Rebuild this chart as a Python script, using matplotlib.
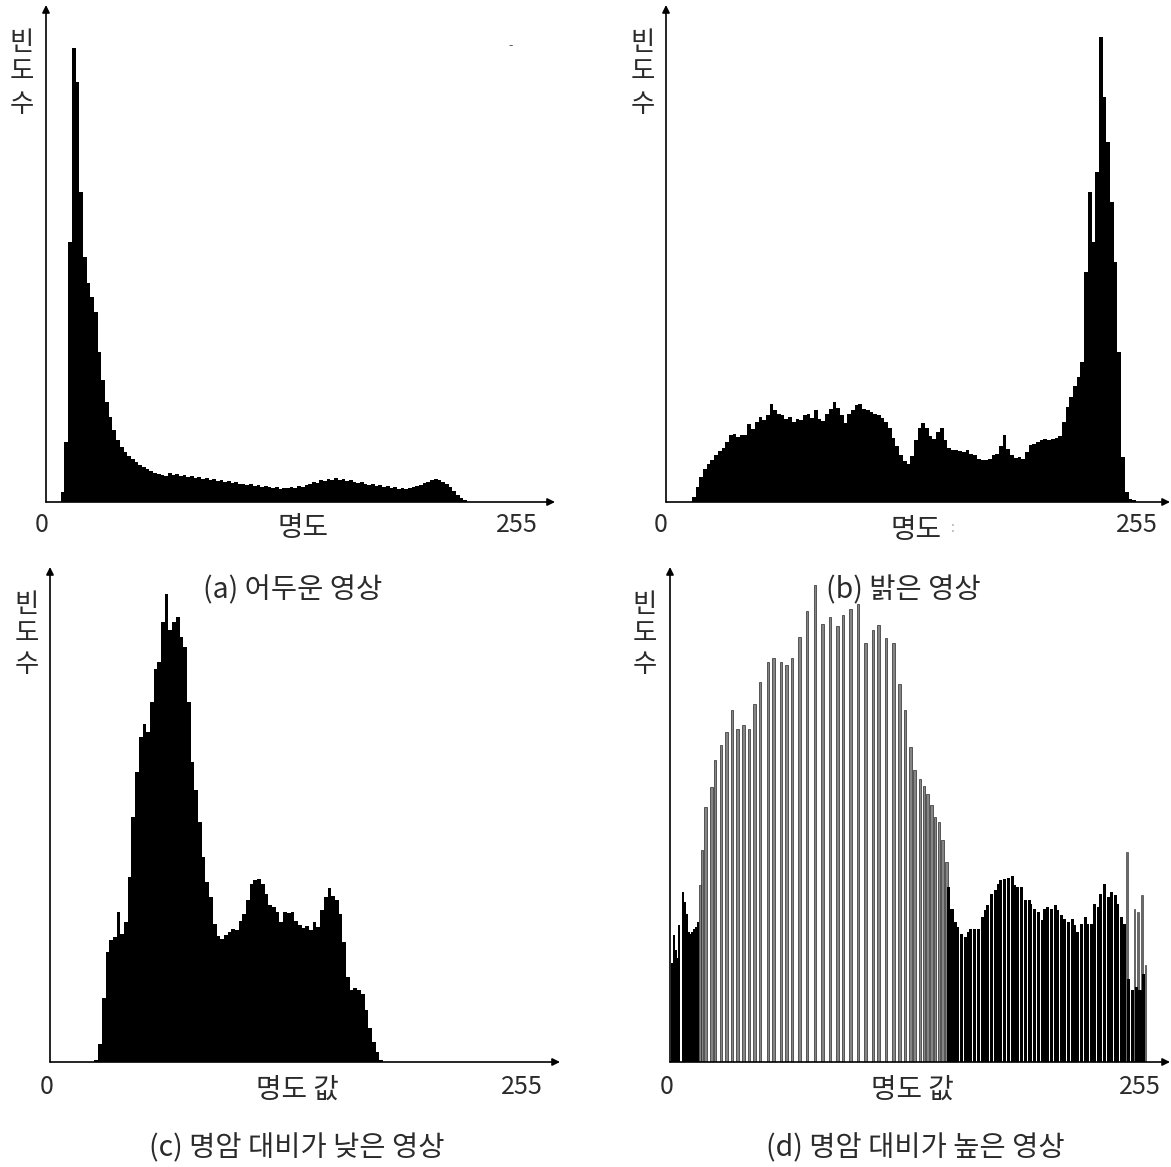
import numpy as np
import matplotlib.pyplot as plt

plt.rcParams['font.family'] = ['Noto Sans CJK KR', 'DejaVu Sans']

W, H = 1171, 1167

# (a) dark image: counts per bin of 2 grey levels, first bin at a_start
a_start = 8
a_counts = [10, 60, 260, 454, 420, 310, 245, 219, 205, 190, 150, 122, 100, 85, 72, 62,
            55, 50, 46, 43, 40, 37, 35, 33, 31, 29, 28, 27, 26, 29, 27, 28,
            26, 27, 25, 26, 24, 25, 23, 24, 22, 23, 21, 22, 20, 21, 19, 20,
            18, 18, 17, 18, 16, 17, 15, 16, 15, 14, 15, 13, 14, 14, 15, 14,
            16, 15, 17, 18, 20, 19, 22, 21, 23, 22, 24, 22, 23, 21, 22, 20,
            19, 20, 18, 17, 18, 16, 17, 15, 16, 14, 15, 13, 14, 13, 14, 15,
            16, 17, 19, 20, 22, 23, 22, 20, 18, 15, 11, 7, 4, 2]

# (b) bright image
b_start = 14
b_counts = [5, 15, 25, 33, 38, 42, 47, 51, 54, 60, 67, 68, 65, 67, 67, 78,
            73, 80, 85, 82, 87, 98, 92, 88, 87, 83, 85, 80, 83, 82, 87, 88,
            84, 92, 83, 81, 88, 93, 100, 94, 87, 79, 88, 92, 97, 98, 93, 92,
            90, 88, 87, 84, 80, 74, 64, 56, 47, 41, 38, 46, 62, 74, 79, 74,
            66, 63, 70, 74, 62, 54, 52, 52, 51, 50, 52, 48, 47, 43, 42, 42,
            43, 47, 48, 56, 67, 53, 47, 44, 45, 43, 50, 57, 58, 60, 62, 63,
            62, 63, 64, 66, 80, 95, 105, 116, 125, 140, 230, 310, 260, 330, 465, 405,
            360, 300, 240, 150, 45, 10, 3, 2]

# (c) low contrast image
c_start = 24
c_counts = [2, 18, 64, 110, 122, 125, 150, 128, 140, 185, 245, 290, 325, 338, 330, 360,
            393, 400, 440, 468, 432, 440, 445, 425, 415, 360, 300, 272, 240, 205, 180, 165,
            138, 126, 123, 127, 130, 133, 132, 141, 148, 162, 178, 182, 183, 178, 168, 157,
            155, 150, 140, 150, 149, 150, 141, 137, 134, 136, 132, 140, 135, 152, 165, 174,
            166, 162, 148, 120, 85, 72, 74, 72, 68, 52, 34, 20, 10, 2]

# (d) high contrast image: single grey levels
d_low_levels = [1, 2, 3, 4, 5, 7, 8, 9, 10, 11, 12, 13, 14, 15]
d_low_counts = [99, 127, 112, 104, 137, 170, 160, 148, 130, 128, 130, 133, 135, 140]

d_mid_levels = [16, 17, 19, 22, 24, 27, 30, 33, 36, 39, 42, 45, 48, 52, 55, 59, 62, 65, 69, 73, 77, 81,
                85, 89, 92, 96, 100, 104, 108, 111, 115, 119, 122, 125, 128, 130, 133, 135, 137, 139,
                141, 143, 145, 147]
d_mid_counts = [177, 212, 255, 275, 302, 317, 330, 352, 333, 337, 333, 358, 380, 400, 404, 400, 397, 404,
                425, 451, 477, 438, 445, 436, 447, 453, 458, 419, 432, 437, 424, 419, 378, 352, 315, 292,
                283, 276, 268, 257, 245, 240, 222, 200]

d_high_levels = [148, 150, 152, 153, 155, 157, 159, 160, 162, 164, 166, 168, 169, 171, 173, 175, 176, 178,
                 180, 182, 183, 185, 187, 189, 191, 192, 194, 196, 198, 199, 201, 203, 205, 206, 208, 210,
                 212, 214, 215, 217, 219, 221, 222, 224, 226, 228, 229, 231, 233, 235, 237, 238, 240, 242,
                 244, 246, 248, 250, 252]
d_high_counts = [175, 153, 140, 135, 128, 125, 130, 133, 133, 133, 145, 152, 157, 168, 172, 178, 182, 183,
                 184, 186, 177, 175, 175, 162, 162, 158, 153, 150, 142, 153, 155, 153, 157, 152, 147, 143,
                 140, 143, 137, 130, 138, 145, 138, 138, 158, 155, 168, 178, 165, 170, 167, 158, 145, 138,
                 83, 72, 75, 72, 88]

d_spike_levels = [243, 247, 249, 251, 253]
d_spike_counts = [210, 153, 150, 167, 97]

y_label = ['빈', '도', '수']
x_labels = ['명도', '명도', '명도 값', '명도 값']
captions = ['(a) 어두운 영상', '(b) 밝은 영상', '(c) 명암 대비가 낮은 영상', '(d) 명암 대비가 높은 영상']

# panel boxes in pixels: left, top, right(arrow end), bottom(x axis), px per grey level
boxes = [(46, 5, 555, 502, 1.847),
         (666, 5, 1170, 502, 1.85),
         (50, 567, 560, 1062, 1.85),
         (670, 567, 1170, 1062, 1.88)]

fig = plt.figure(figsize=(W / 100, H / 100), dpi=100)
TXT = '#2b2b2b'


def ftext(x, y, s, fs=20.5, **kw):
    fig.text(x / W, 1 - y / H, s, ha='center', va='center', color=TXT, fontsize=fs, **kw)


axes = []
for left, top, right, bottom, sc in boxes:
    ax = fig.add_axes([left / W, 1 - bottom / H, (right - left) / W, (bottom - top) / H])
    ax.set_xlim(0, (right - left) / sc)
    ax.set_ylim(0, bottom - top)
    ax.axis('off')
    arrow = dict(arrowstyle='-|>', color='black', lw=1.2, mutation_scale=11, shrinkA=0, shrinkB=0)
    ax.annotate('', xy=(1, 0), xytext=(0, 0), xycoords='axes fraction', arrowprops=arrow)
    ax.annotate('', xy=(0, 1), xytext=(0, 0), xycoords='axes fraction', arrowprops=arrow)
    axes.append(ax)

for ax, start, counts in [(axes[0], a_start, a_counts),
                          (axes[1], b_start, b_counts),
                          (axes[2], c_start, c_counts)]:
    edges = start + 2 * np.arange(len(counts) + 1)
    ax.stairs(counts, edges, fill=True, color='black', zorder=2)

ax = axes[3]
ax.bar(d_low_levels, d_low_counts, width=1.15, color='black', lw=0, zorder=2)
ax.bar(d_mid_levels, d_mid_counts, width=1.3, facecolor='#858585', edgecolor='#2a2a2a', lw=0.5, zorder=2)
ax.bar(d_high_levels, d_high_counts, width=1.6, color='black', lw=0, zorder=2)
ax.bar(d_spike_levels, d_spike_counts, width=0.9, facecolor='#6a6a6a', edgecolor='#2a2a2a', lw=0.4, zorder=1)

# text: y label letters, tick labels, x label, caption
ylab_pos = [(22, [43, 72, 104]), (643, [43, 72, 104]), (27, [604, 633, 665]), (645, [604, 633, 665])]
zero_pos = [(42, 525), (661, 525), (47, 1087), (667, 1087)]
end_pos = [(517, 525), (1137, 525), (522, 1087), (1140, 1087)]
xlab_pos = [(303, 528), (916, 530), (297, 1090), (912, 1090)]
cap_pos = [(293, 590), (903, 590), (297, 1148), (915, 1148)]

for i in range(4):
    x, ys = ylab_pos[i]
    for ch, y in zip(y_label, ys):
        ftext(x, y, ch, fs=19)
    ftext(*zero_pos[i], '0', fs=18)
    ftext(*end_pos[i], '255', fs=18)
    ftext(*xlab_pos[i], x_labels[i], fs=20)
    ftext(*cap_pos[i], captions[i])

# small stray marks visible in the scan
ftext(511, 46, '-', fs=9, alpha=0.8)
ftext(953, 528, ':', fs=10, alpha=0.4)

fig.savefig('out.png', dpi=100, facecolor='white')
